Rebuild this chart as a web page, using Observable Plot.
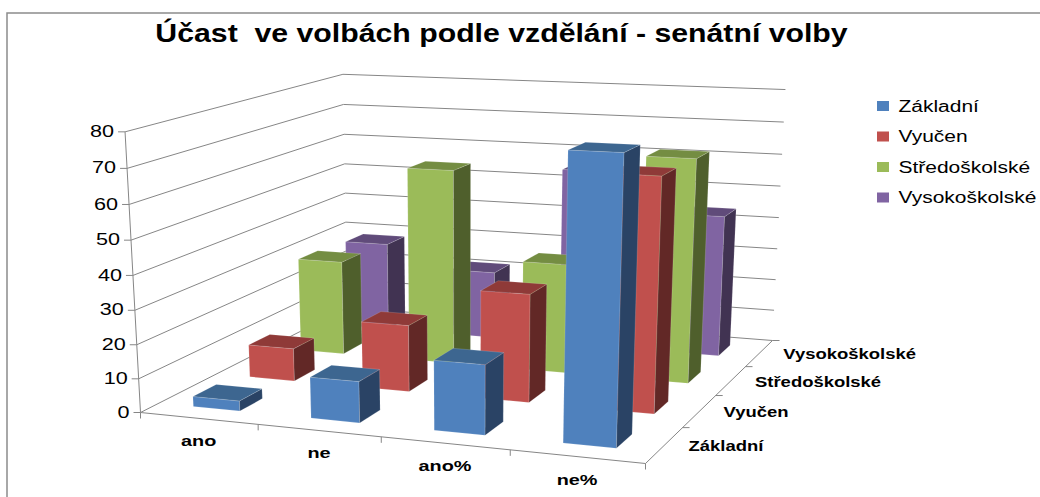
<!DOCTYPE html>
<html><head><meta charset="utf-8">
<script src="https://cdn.jsdelivr.net/npm/d3@7"></script>
<script src="https://cdn.jsdelivr.net/npm/@observablehq/plot@0.6"></script>
<style>html,body{margin:0;padding:0;background:#fff}svg{display:block}</style>
</head><body><div id="chart"></div>
<script>
const categories = ["ano", "ne", "ano%", "ne%"];
const seriesNames = ["Základní", "Vyučen", "Středoškolské", "Vysokoškolské"];
const zakladni = [3, 12, 20, 79];
const vyucen = [10, 20, 32, 67.5];
const stredoskolske = [29.5, 60, 33.5, 67];
const vysokoskolske = [28.5, 21.5, 56, 44];
const seriesValues = [zakladni, vyucen, stredoskolske, vysokoskolske];
const valueTicks = [0, 10, 20, 30, 40, 50, 60, 70, 80];
const frontColors = ["#4f81bd", "#c0504d", "#9bbb59", "#8064a2"];
const topColors = ["#3d6690", "#8f3a38", "#748d42", "#604b7a"];
const sideColors = ["#2a4365", "#622826", "#4f5f2c", "#413352"];
const titleText = "Účast\u00a0 ve volbách podle vzdělání - senátní volby";

const W = 1040, H = 497, maxValue = 80;
// Camera calibration: floor corners and wall-top corners of the 3D box
const floor = [[140, 412], [645, 463], [772, 340], [347, 307]];
const tops = [[0, 0, 125, 131.7], [1, 1, 785, 91], [0, 1, 342, 71.7]];
function squareToQuad(q) {
  const [[x0,y0],[x1,y1],[x2,y2],[x3,y3]] = q;
  const dx1=x1-x2, dx2=x3-x2, sx=x0-x1+x2-x3, dy1=y1-y2, dy2=y3-y2, sy=y0-y1+y2-y3;
  const den=dx1*dy2-dx2*dy1, g=(sx*dy2-dx2*sy)/den, h=(dx1*sy-sx*dy1)/den;
  return [x1-x0+g*x1, x3-x0+h*x3, x0, y1-y0+g*y1, y3-y0+h*y3, y0, g, h, 1];
}
const M = squareToQuad(floor);
// Solve vertical column (p,q,r) by least squares over the wall-top corners
function solveVertical() {
  const rows = [], rhs = [];
  for (const [u, v, x, y] of tops) {
    const X = M[0]*u+M[1]*v+M[2], Y = M[3]*u+M[4]*v+M[5], Z = M[6]*u+M[7]*v+M[8];
    rows.push([1, 0, -x]); rhs.push(x*Z-X);
    rows.push([0, 1, -y]); rhs.push(y*Z-Y);
  }
  const A = [0,1,2].map(i => [0,1,2].map(j => d3.sum(rows, r => r[i]*r[j])));
  const b = [0,1,2].map(i => d3.sum(rows, (r, k) => r[i]*rhs[k]));
  for (let i = 0; i < 3; i++) {
    let piv = i; for (let k = i+1; k < 3; k++) if (Math.abs(A[k][i]) > Math.abs(A[piv][i])) piv = k;
    [A[i], A[piv]] = [A[piv], A[i]]; [b[i], b[piv]] = [b[piv], b[i]];
    for (let k = 0; k < 3; k++) if (k !== i) {
      const f = A[k][i]/A[i][i];
      for (let j = 0; j < 3; j++) A[k][j] -= f*A[i][j];
      b[k] -= f*b[i];
    }
  }
  return b.map((v, i) => v/A[i][i]);
}
const [P, Q, R] = solveVertical();
// u, v in cells (0..4), value in data units
function project(u, v, value) {
  const a = u/4, b = v/4, w = value/maxValue;
  const Z = M[6]*a+M[7]*b+M[8]+R*w;
  return [(M[0]*a+M[1]*b+M[2]+P*w)/Z, (M[3]*a+M[4]*b+M[5]+Q*w)/Z];
}

const barSize = 0.4, inset = (1-barSize)/2;
const faces = [];
function addFace(id, color, pts) {
  [...pts, pts[0]].forEach(p => { const [x, y] = project(...p); faces.push({id, color, x, y}); });
}
for (let s = seriesNames.length-1; s >= 0; s--) {
  seriesValues[s].forEach((val, c) => {
    const u0=c+inset, u1=c+1-inset, v0=s+inset, v1=s+1-inset, id=`${s}-${c}`;
    addFace(id+"f", frontColors[s], [[u0,v0,0],[u1,v0,0],[u1,v0,val],[u0,v0,val]]);
    addFace(id+"s", sideColors[s], [[u1,v0,0],[u1,v1,0],[u1,v1,val],[u1,v0,val]]);
    addFace(id+"t", topColors[s], [[u0,v0,val],[u1,v0,val],[u1,v1,val],[u0,v1,val]]);
  });
}

const segments = [];
function seg(a, b) { segments.push({x1:a[0],y1:a[1],x2:b[0],y2:b[1]}); }
valueTicks.forEach(t => {
  const a = project(0,0,t), b = project(0,4,t), c = project(4,4,t);
  seg(a, b); seg(b, c); seg(a, [a[0]-7, a[1]]);
});
seg(project(0,0,0), project(0,0,maxValue));
seg(project(0,0,0), project(4,0,0));
seg(project(4,0,0), project(4,4,0));
for (let i = 0; i <= 4; i++) { const p = project(i,0,0); seg(p, [p[0], p[1]+6]); }
for (let i = 1; i <= 4; i++) { const p = project(4,i,0); seg(p, [p[0]+7, p[1]]); }

const valueLabels = valueTicks.map(t => { const [x,y] = project(0,0,t); return {x:x-11, y, text:String(t)}; });
const catLabels = categories.map((text,i) => { const [x,y] = project(i+0.5,0,0); return {x, y:y+23, text}; });
const depthLabels = seriesNames.map((text,i) => { const [x,y] = project(4,i+0.5,0); return {x:x+24, y:y+1, text}; });
const legendRows = seriesNames.map((text,i) => ({text, color:frontColors[i], y:106+30.5*i}));

const plot = Plot.plot({
  width: W, height: H, margin: 0,
  x: {domain:[0,W], range:[0,W], axis:null},
  y: {domain:[0,H], range:[0,H], axis:null},
  style: {fontFamily:"'Liberation Sans', Arial, sans-serif", background:"#fff", color:"#000"},
  marks: [
    Plot.rect([{x1:7,x2:W+5,y1:13,y2:H+5}], {x1:"x1",x2:"x2",y1:"y1",y2:"y2",fill:"none",stroke:"#8c8c8c",strokeWidth:1.5}),
    Plot.link(segments, {x1:"x1",y1:"y1",x2:"x2",y2:"y2",stroke:"#868686",strokeWidth:1}),
    Plot.line(faces, {x:"x",y:"y",z:"id",fill:"color",stroke:"#ffffff",strokeOpacity:0.25,strokeWidth:0.6,curve:"linear"}),
    Plot.text(valueLabels, {x:"x",y:"y",text:"text",textAnchor:"end",fontSize:16,fill:"#000"}),
    Plot.text(catLabels, {x:"x",y:"y",text:"text",fontSize:15.5,fontWeight:"bold",fill:"#000"}),
    Plot.text(depthLabels, {x:"x",y:"y",text:"text",textAnchor:"start",fontSize:15,fontWeight:"bold",fill:"#000"}),
    Plot.rect(legendRows, {x1:()=>877,x2:()=>889,y1:d=>d.y-5,y2:d=>d.y+5,fill:"color"}),
    Plot.text(legendRows, {x:()=>898,y:"y",text:"text",textAnchor:"start",fontSize:16,fill:"#000"}),
    Plot.text([titleText], {x:()=>501,y:()=>33,text:d=>d,fontSize:26,fontWeight:"bold",fill:"#000"})
  ]
});
document.getElementById("chart").appendChild(plot);
// The reference's text is horizontally stretched: widen each text group's glyphs
const stretch = [1.35, 1.28, 1.23, 1.31, 1.163];
d3.select(plot).selectAll('g[aria-label="text"]').each(function(_, i) {
  d3.select(this).selectAll("text").each(function() {
    this.setAttribute("textLength", this.getComputedTextLength()*stretch[i]);
    this.setAttribute("lengthAdjust", "spacingAndGlyphs");
  });
});
</script></body></html>
